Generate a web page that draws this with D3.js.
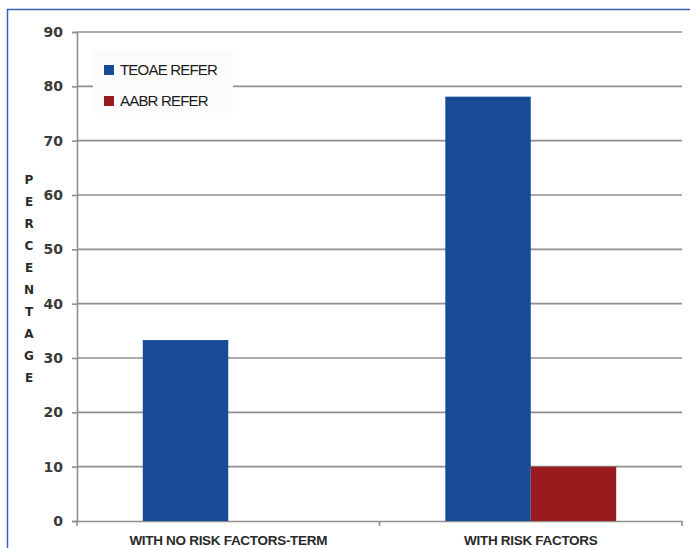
<!DOCTYPE html>
<html>
<head>
<meta charset="utf-8">
<script src="https://cdn.jsdelivr.net/npm/d3@7"></script>
<style>
  html, body { margin: 0; padding: 0; background: #fff; }
  svg { display: block; }
</style>
</head>
<body>
<svg id="chart" width="690" height="548"></svg>
<script>
// Chart data
const categories = ["WITH NO RISK FACTORS-TERM", "WITH RISK FACTORS"];
const seriesNames = ["TEOAE REFER", "AABR REFER"];
const teoaeRefer = [33.3, 78.1];
const aabrRefer = [0, 10];
const yTicks = [0, 10, 20, 30, 40, 50, 60, 70, 80, 90];
const axisTitle = "PERCENTAGE";
const seriesColors = ["#174b95", "#9a1b1d"];

const seriesValues = [teoaeRefer, aabrRefer];
const svg = d3.select("#chart");
const W = 690, H = 548;
const margin = { left: 77, top: 32 };
const plotRight = 682, plotBottom = 521;

// Frame: left and top rule
svg.append("line").attr("x1", 7.5).attr("x2", 7.5).attr("y1", 9).attr("y2", H)
  .attr("stroke", "#3a5fb8").attr("stroke-width", 1.5);
svg.append("line").attr("x1", 7).attr("x2", W).attr("y1", 9.5).attr("y2", 9.5)
  .attr("stroke", "#3a5fb8").attr("stroke-width", 1.5);

const x0 = d3.scaleBand().domain(categories).range([margin.left, plotRight]).paddingInner(0).paddingOuter(0);
const x1 = d3.scaleBand().domain(seriesNames).range([0, x0.bandwidth()]).paddingInner(0).paddingOuter(0.77);
const y = d3.scaleLinear().domain([0, 90]).range([plotBottom, margin.top]);

// Gridlines
svg.append("g").selectAll("line").data(yTicks.filter(d => d > 0)).join("line")
  .attr("x1", margin.left).attr("x2", plotRight)
  .attr("y1", d => y(d)).attr("y2", d => y(d))
  .attr("stroke", "#8f8f8f").attr("stroke-width", 1.6);

// Y axis
const yAxis = svg.append("g").attr("transform", `translate(${margin.left},0)`)
  .call(d3.axisLeft(y).tickValues(yTicks).tickSize(5).tickPadding(9));
yAxis.select(".domain").attr("stroke", "#8f8f8f").attr("stroke-width", 1.6);
yAxis.selectAll(".tick line").attr("stroke", "#8f8f8f").attr("stroke-width", 1.6);
yAxis.selectAll(".tick text")
  .attr("fill", "#3a3a3a").attr("font-family", "'DejaVu Sans', Verdana, sans-serif")
  .attr("font-weight", "bold").attr("font-size", 14);

// X axis
const xAxis = svg.append("g").attr("transform", `translate(0,${plotBottom})`)
  .call(d3.axisBottom(x0).tickSize(0).tickPadding(14));
xAxis.select(".domain").attr("stroke", "#8f8f8f").attr("stroke-width", 1.6);
xAxis.selectAll(".tick text")
  .attr("fill", "#2a2a2a").attr("font-family", "'Liberation Sans', Arial, sans-serif")
  .attr("font-weight", "bold").attr("font-size", 13.5).attr("letter-spacing", "-0.3");
// Category separator ticks
const sepTicks = [margin.left, ...categories.slice(1).map(c => x0(c)), plotRight];
svg.append("g").selectAll("line").data(sepTicks).join("line")
  .attr("x1", d => d).attr("x2", d => d)
  .attr("y1", plotBottom).attr("y2", plotBottom + 5)
  .attr("stroke", "#8f8f8f").attr("stroke-width", 1.6);

// Bars
const groups = svg.append("g").selectAll("g").data(categories).join("g")
  .attr("transform", d => `translate(${x0(d)},0)`);
groups.selectAll("rect")
  .data((c, i) => seriesNames.map((s, j) => ({ s, v: seriesValues[j][i], color: seriesColors[j] })))
  .join("rect")
  .attr("x", d => x1(d.s))
  .attr("width", x1.bandwidth())
  .attr("y", d => y(d.v))
  .attr("height", d => plotBottom - y(d.v))
  .attr("fill", d => d.color);

// Legend
const legend = svg.append("g").attr("transform", "translate(93,50)");
legend.append("rect").attr("width", 140).attr("height", 63).attr("fill", "#fcfcfc");
seriesNames.forEach((name, i) => {
  const g = legend.append("g").attr("transform", `translate(11,${15 + i * 31})`);
  g.append("rect").attr("width", 10).attr("height", 10).attr("fill", seriesColors[i]);
  g.append("text").attr("x", 16).attr("y", 5).attr("dy", "0.36em")
    .attr("font-family", "'Liberation Sans', Arial, sans-serif").attr("font-size", 15)
    .attr("letter-spacing", "-0.8").attr("fill", "#1a1a1a").text(name);
});

// Vertical stacked axis title
svg.append("g").selectAll("text").data(axisTitle.split("")).join("text")
  .attr("x", 29).attr("y", (d, i) => 180 + i * 22).attr("dy", "0.36em")
  .attr("text-anchor", "middle")
  .attr("font-family", "'DejaVu Sans', Verdana, sans-serif").attr("font-weight", "bold")
  .attr("font-size", 12).attr("fill", "#2a2a2a").text(d => d);
</script>
</body>
</html>
